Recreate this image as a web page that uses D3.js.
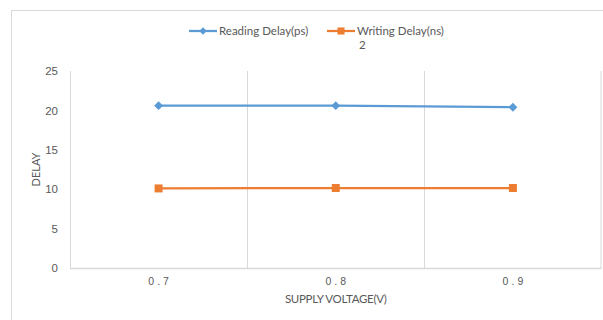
<!DOCTYPE html>
<html>
<head>
<meta charset="utf-8">
<script src="https://cdn.jsdelivr.net/npm/d3@7"></script>
<style>
  html, body { margin: 0; padding: 0; background: #fff; }
  svg { display: block; font-family: Lato, "Open Sans", "Liberation Sans", sans-serif; }
</style>
</head>
<body>
<svg id="chart" width="603" height="320"></svg>
<script>
// Supply voltage categories and measured delays
const voltages = ["0.7", "0.8", "0.9"];
const readingDelay = [20.6, 20.6, 20.4];
const writingDelay = [10.1, 10.15, 10.15];
const yTicks = [0, 5, 10, 15, 20, 25];

const series = [
  { name: "Reading Delay(ps)", values: readingDelay, color: "#5B9BD5", marker: "diamond" },
  { name: "Writing Delay(ns)", values: writingDelay, color: "#ED7D31", marker: "square" }
];

const svg = d3.select("#chart");
const W = 603, H = 320;
const margin = { left: 70, right: 1.5, top: 71, bottom: 52 };
const plotW = W - margin.left - margin.right;
const plotH = H - margin.top - margin.bottom;

const grey = "#D9D9D9";
const textColor = "#595959";

// Chart frame
svg.append("rect")
  .attr("x", 11.5).attr("y", 10.5)
  .attr("width", 592).attr("height", 330)
  .attr("fill", "none").attr("stroke", grey).attr("stroke-width", 1);

const g = svg.append("g").attr("transform", `translate(${margin.left},${margin.top})`);

const x = d3.scaleBand().domain(voltages).range([0, plotW]).padding(0);
const y = d3.scaleLinear().domain([0, 25]).range([plotH, 0]);

// Category boundary gridlines
const bounds = voltages.slice(1).map(v => x(v));
g.selectAll("line.vgrid").data(bounds).enter().append("line")
  .attr("class", "vgrid")
  .attr("x1", d => Math.round(d) + 0.5).attr("x2", d => Math.round(d) + 0.5)
  .attr("y1", 0).attr("y2", plotH)
  .attr("stroke", grey).attr("stroke-width", 1);

// Right edge of plot area
g.append("line")
  .attr("x1", plotW - 0.5).attr("x2", plotW - 0.5)
  .attr("y1", 0).attr("y2", plotH)
  .attr("stroke", grey);

// Y axis
const yAxis = g.append("g").call(d3.axisLeft(y).tickValues(yTicks).tickSize(0).tickPadding(12));
yAxis.select(".domain").attr("stroke", grey).attr("d", `M0.5,0V${plotH}`);
yAxis.selectAll("text").attr("fill", textColor).style("font-size", "11.5px");

// X axis (letter-spaced labels, shifted to stay centred)
const spacing = 3;
const xAxis = g.append("g").attr("transform", `translate(0,${plotH})`)
  .call(d3.axisBottom(x).tickSize(0).tickPadding(10));
xAxis.select(".domain").attr("stroke", grey).attr("stroke-width", 1.5).attr("d", `M0,0.5H${plotW}`);
xAxis.selectAll("text")
  .attr("fill", textColor).attr("dx", spacing / 2)
  .style("font-size", "10.5px").style("letter-spacing", spacing + "px");

// Axis titles
svg.append("text")
  .attr("x", margin.left + plotW / 2).attr("y", 303)
  .attr("text-anchor", "middle").attr("fill", textColor)
  .style("font-size", "11.5px").style("letter-spacing", "-0.3px")
  .text("SUPPLY VOLTAGE(V)");

svg.append("text")
  .attr("transform", `translate(40,${margin.top + plotH / 2}) rotate(-90)`)
  .attr("text-anchor", "middle").attr("fill", textColor)
  .style("font-size", "11px")
  .text("DELAY");

// Lines and markers
const cx = v => x(v) + x.bandwidth() / 2;
const line = d3.line().x((d, i) => cx(voltages[i])).y(d => y(d));

function drawMarker(sel, type, color, size) {
  const sym = type === "diamond" ? d3.symbolDiamond2 : d3.symbolSquare;
  sel.append("path")
    .attr("d", d3.symbol(sym, size)())
    .attr("fill", color);
}

series.forEach(s => {
  g.append("path").datum(s.values)
    .attr("d", line)
    .attr("fill", "none").attr("stroke", s.color).attr("stroke-width", 2.25)
    .attr("stroke-linejoin", "round");
  s.values.forEach((v, i) => {
    const m = g.append("g").attr("transform", `translate(${cx(voltages[i])},${y(v)})`);
    drawMarker(m, s.marker, s.color, s.marker === "diamond" ? 50 : 64);
  });
});

// Legend
const legend = svg.append("g");
const legendItems = [
  { s: series[0], x0: 189 },
  { s: series[1], x0: 327 }
];
legendItems.forEach(it => {
  const ly = 31;
  legend.append("line")
    .attr("x1", it.x0).attr("x2", it.x0 + 28)
    .attr("y1", ly).attr("y2", ly)
    .attr("stroke", it.s.color).attr("stroke-width", 2.25);
  const m = legend.append("g").attr("transform", `translate(${it.x0 + 14},${ly})`);
  drawMarker(m, it.s.marker, it.s.color, it.s.marker === "diamond" ? 36 : 50);
  legend.append("text")
    .attr("x", it.x0 + 30).attr("y", ly + 4)
    .attr("fill", textColor).style("font-size", "11.5px")
    .text(it.s.name);
});
legend.append("text")
  .attr("x", 359).attr("y", 49)
  .attr("fill", textColor).style("font-size", "11.5px")
  .text("2");
</script>
</body>
</html>
